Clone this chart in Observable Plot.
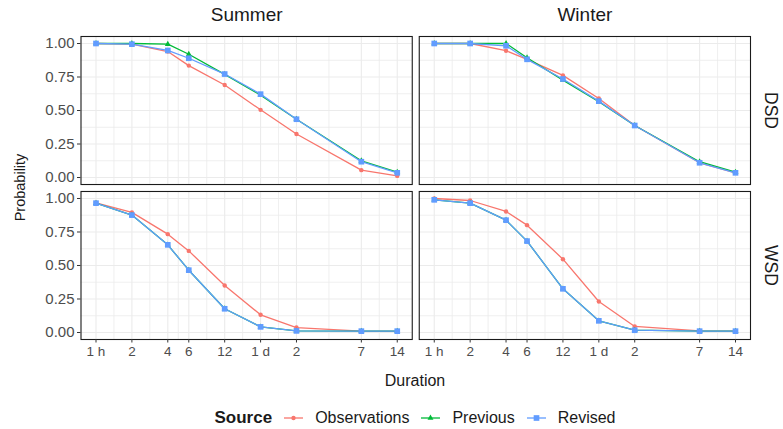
<!DOCTYPE html>
<html><head><meta charset="utf-8">
<script src="https://cdn.jsdelivr.net/npm/d3@7"></script>
<script src="https://cdn.jsdelivr.net/npm/@observablehq/plot@0.6"></script>
<style>
body{margin:0;background:#fff;font-family:"Liberation Sans",Arial,sans-serif;}
#legend{width:783px;height:31px;box-sizing:border-box;padding:9px 33px 0 92px;display:flex;align-items:center;justify-content:center;font-size:16px;color:#1a1a1a;}
#legend .ttl{font-weight:bold;margin-right:12px;font-size:17px;}
#legend svg{margin-right:12px;}
#legend .lab{margin-right:12px;}
</style></head><body>
<div id="chart"></div>
<div id="legend"></div>
<script>
// ---- data ----
const durations = [1, 2, 4, 6, 12, 24, 48, 168, 336]; // hours
const durationLabels = ["1 h", "2", "4", "6", "12", "1 d", "2", "7", "14"];
const seasons = ["Summer", "Winter"];
const droughtTypes = ["DSD", "WSD"];
const sources = ["Observations", "Previous", "Revised"];
const sourceColors = ["#F8766D", "#00BA38", "#619CFF"];
const sourceSymbols = ["circle", "triangle", "square"];
const yTicks = [0, 0.25, 0.5, 0.75, 1];

const summerDSD_obs  = [1.00, 0.995, 0.94, 0.835, 0.69, 0.505, 0.325, 0.055, 0.012];
const summerDSD_prev = [1.00, 1.00, 0.995, 0.92, 0.77, 0.615, 0.435, 0.125, 0.04];
const summerDSD_rev  = [1.00, 0.995, 0.948, 0.89, 0.772, 0.622, 0.435, 0.118, 0.035];

const winterDSD_obs  = [1.00, 1.00, 0.946, 0.882, 0.762, 0.59, 0.388, 0.11, 0.035];
const winterDSD_prev = [1.00, 1.00, 1.00, 0.894, 0.727, 0.565, 0.388, 0.118, 0.04];
const winterDSD_rev  = [1.00, 1.00, 0.983, 0.882, 0.735, 0.57, 0.388, 0.11, 0.035];

const summerWSD_obs  = [0.968, 0.896, 0.734, 0.609, 0.351, 0.132, 0.037, 0.01, 0.008];
const summerWSD_prev = [0.965, 0.876, 0.654, 0.465, 0.177, 0.042, 0.012, 0.01, 0.01];
const summerWSD_rev  = [0.965, 0.876, 0.654, 0.465, 0.177, 0.042, 0.012, 0.01, 0.01];

const winterWSD_obs  = [1.00, 0.985, 0.903, 0.801, 0.547, 0.231, 0.045, 0.012, 0.01];
const winterWSD_prev = [0.99, 0.965, 0.838, 0.682, 0.326, 0.087, 0.017, 0.01, 0.01];
const winterWSD_rev  = [0.99, 0.965, 0.838, 0.682, 0.326, 0.087, 0.017, 0.01, 0.01];

const series = [
  ["Summer", "DSD", "Observations", summerDSD_obs],
  ["Summer", "DSD", "Previous", summerDSD_prev],
  ["Summer", "DSD", "Revised", summerDSD_rev],
  ["Winter", "DSD", "Observations", winterDSD_obs],
  ["Winter", "DSD", "Previous", winterDSD_prev],
  ["Winter", "DSD", "Revised", winterDSD_rev],
  ["Summer", "WSD", "Observations", summerWSD_obs],
  ["Summer", "WSD", "Previous", summerWSD_prev],
  ["Summer", "WSD", "Revised", summerWSD_rev],
  ["Winter", "WSD", "Observations", winterWSD_obs],
  ["Winter", "WSD", "Previous", winterWSD_prev],
  ["Winter", "WSD", "Revised", winterWSD_rev]
];
const data = series.flatMap(([season, type, source, vals]) =>
  vals.map((p, i) => ({season, type, source, duration: durations[i], p})));

// minor grid breaks (midpoints in transformed space, as ggplot)
const xMinor = durations.slice(1).map((d, i) => Math.sqrt(d * durations[i]));
const yMinor = yTicks.slice(1).map((d, i) => (d + yTicks[i]) / 2);

const stripTop = seasons.map(s => ({season: s, type: droughtTypes[0]}));
const stripRight = droughtTypes.map(t => ({season: seasons[seasons.length - 1], type: t}));
const xLabels = seasons.flatMap(s => durations.map((d, i) =>
  ({season: s, type: droughtTypes[droughtTypes.length - 1], duration: d, label: durationLabels[i]})));

const d3Symbols = {circle: d3.symbolCircle, triangle: d3.symbolTriangle, square: d3.symbolSquare};
const dotR = {Observations: 2.2, Previous: 2.2, Revised: 3.2};

const plot = Plot.plot({
  width: 783, height: 398,
  marginLeft: 80.5, marginRight: 33, marginTop: 36, marginBottom: 59,
  style: {fontFamily: "'Liberation Sans', Arial, sans-serif", background: "#fff", overflow: "visible"},
  x: {type: "log", domain: [1, 336], insetLeft: 15, insetRight: 15, axis: null},
  y: {domain: [0, 1], insetTop: 7, insetBottom: 7, axis: null},
  fx: {domain: seasons, paddingInner: 0.0207, paddingOuter: 0, round: false, axis: null},
  fy: {domain: droughtTypes, paddingInner: 0.045, paddingOuter: 0, round: false, axis: null},
  marks: [
    Plot.ruleX(xMinor, {stroke: "#ebebeb", strokeWidth: 0.8}),
    Plot.ruleY(yMinor, {stroke: "#ebebeb", strokeWidth: 0.8}),
    Plot.ruleX(durations, {stroke: "#ebebeb", strokeWidth: 1.1}),
    Plot.ruleY(yTicks, {stroke: "#ebebeb", strokeWidth: 1.1}),
    ...sources.map((s, i) => Plot.line(data.filter(d => d.source === s), {
      x: "duration", y: "p", stroke: sourceColors[i], fx: "season", fy: "type", strokeWidth: 1.3
    })),
    ...sources.map((s, i) => Plot.dot(data.filter(d => d.source === s), {
      x: "duration", y: "p", fill: sourceColors[i], stroke: "none", symbol: d3Symbols[sourceSymbols[i]], fx: "season", fy: "type", r: dotR[s]
    })),
    Plot.frame({stroke: "#1a1a1a", strokeWidth: 1.1}),
    Plot.axisY({ticks: yTicks, tickFormat: d => d.toFixed(2), tickSize: 3.5, tickPadding: 3, fontSize: 15, fill: "#4d4d4d", stroke: "#333", label: null}),
    Plot.axisX({ticks: durations, tickSize: 3.5, tickPadding: 3, fill: "none", stroke: "#333", label: null}),
    Plot.text(xLabels, {x: "duration", fx: "season", fy: "type", text: "label", frameAnchor: "bottom", lineAnchor: "top", dy: 6.5, fontSize: 13.5, fill: "#4d4d4d"}),
    Plot.text(stripTop, {fx: "season", fy: "type", text: "season", frameAnchor: "top", lineAnchor: "middle", textAnchor: "middle", dy: -22, fontSize: 19, fill: "#1a1a1a"}),
    Plot.text(stripRight, {fx: "season", fy: "type", text: "type", frameAnchor: "right", lineAnchor: "middle", textAnchor: "middle", dx: 20.5, rotate: 90, fontSize: 17.5, fill: "#1a1a1a"})
  ]
});

// axis titles
const svg = d3.select(plot);
svg.append("text").attr("transform", "translate(19.5,187.5) rotate(-90)")
  .attr("text-anchor", "middle").attr("dy", "0.35em")
  .attr("font-size", 14.5).attr("fill", "#1a1a1a").text("Probability");
svg.append("text").attr("x", 415).attr("y", 385.5)
  .attr("text-anchor", "middle").attr("font-size", 16).attr("fill", "#1a1a1a").text("Duration");

document.getElementById("chart").appendChild(plot);

// legend
const legend = d3.select("#legend");
legend.append("span").attr("class", "ttl").text("Source");
sources.forEach((s, i) => {
  const k = legend.append("svg").attr("width", 19).attr("height", 12);
  k.append("line").attr("x1", 0).attr("x2", 19).attr("y1", 6).attr("y2", 6)
    .attr("stroke", sourceColors[i]).attr("stroke-width", 1.3);
  const r = dotR[s];
  k.append("path").attr("transform", "translate(9.5,6)")
    .attr("d", d3.symbol(d3Symbols[sourceSymbols[i]], Math.PI * r * r)()).attr("fill", sourceColors[i]);
  legend.append("span").attr("class", "lab").text(s);
});
</script>
</body></html>
